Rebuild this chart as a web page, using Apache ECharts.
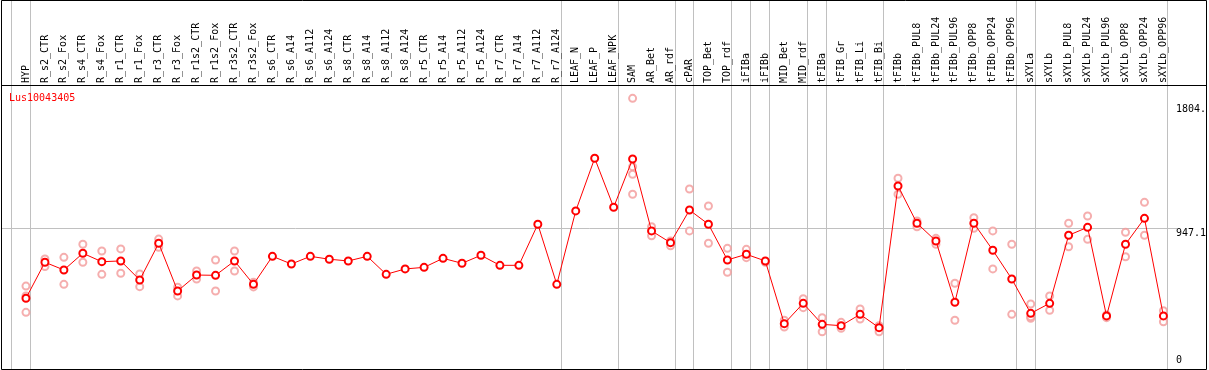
<!DOCTYPE html>
<html>
<head>
<meta charset="utf-8">
<script src="https://cdn.jsdelivr.net/npm/echarts@6/dist/echarts.min.js"></script>
<style>
  html, body { margin: 0; padding: 0; background: #fff; }
  #chart { width: 1209px; height: 370px; }
</style>
</head>
<body>
<div id="chart"></div>
<script>
const geneLabel = 'Lus10043405';

const categories = [
  'HYP', 'R_s2_CTR', 'R_s2_Fox', 'R_s4_CTR', 'R_s4_Fox', 'R_r1_CTR', 'R_r1_Fox', 'R_r3_CTR', 'R_r3_Fox',
  'R_r1s2_CTR', 'R_r1s2_Fox', 'R_r3s2_CTR', 'R_r3s2_Fox', 'R_s6_CTR', 'R_s6_A14', 'R_s6_A112', 'R_s6_A124',
  'R_s8_CTR', 'R_s8_A14', 'R_s8_A112', 'R_s8_A124', 'R_r5_CTR', 'R_r5_A14', 'R_r5_A112', 'R_r5_A124',
  'R_r7_CTR', 'R_r7_A14', 'R_r7_A112', 'R_r7_A124', 'LEAF_N', 'LEAF_P', 'LEAF_NPK', 'SAM', 'AR_Bet', 'AR_rdf',
  'cPAR', 'TOP_Bet', 'TOP_rdf', 'iFIBa', 'iFIBb', 'MID_Bet', 'MID_rdf', 'tFIBa', 'tFIB_Gr', 'tFIB_Li', 'tFIB_Bi',
  'tFIBb', 'tFIBb_PUL8', 'tFIBb_PUL24', 'tFIBb_PUL96', 'tFIBb_OPP8', 'tFIBb_OPP24', 'tFIBb_OPP96',
  'sXYLa', 'sXYLb', 'sXYLb_PUL8', 'sXYLb_PUL24', 'sXYLb_PUL96', 'sXYLb_OPP8', 'sXYLb_OPP24', 'sXYLb_OPP96'
];

const meanValues = [
  465, 713, 660, 775, 717, 722, 591, 844, 515,
  625, 623, 722, 561, 754, 701, 754, 734,
  722, 754, 630, 667, 678, 740, 706, 761,
  692, 692, 975, 561, 1067, 1430, 1092, 1425, 929, 848,
  1073, 975, 729, 768, 722, 290, 430, 285, 276, 354, 262,
  1239, 982, 860, 437, 982, 796, 598,
  361, 430, 899, 954, 343, 837, 1016, 343
];

const replicateValues = [
  [549, 481, 368], [736, 683], [747, 561], [837, 713], [791, 630], [805, 637], [632, 545], [873, 816], [541, 481],
  [653, 598], [729, 515], [791, 653], [575, 543], [], [], [], [],
  [], [], [], [], [], [], [], [],
  [], [], [], [], [], [], [], [1843, 1372, 1320, 1182], [958, 896], [827, 860],
  [1218, 929], [1101, 844], [809, 644], [802, 745], [713], [313, 267], [462, 400], [331, 234], [299, 258], [391, 322], [234, 276],
  [1292, 1182], [998, 958], [878, 837], [568, 313], [1020, 947], [929, 667], [837, 354],
  [425, 327, 338], [481, 382], [982, 820], [1032, 871], [350, 331], [920, 751], [1126, 899], [379, 303]
];

const yTickValues = [0, 947.1, 1804.2];
const yTickLabels = ['0', '947.1', '1804.'];

// group boundaries: a separator follows each of these category indices (-1 = before the first)
const separatorsAfter = [-1, 0, 28, 31, 34, 35, 37, 38, 39, 41, 42, 45, 52, 53, 60];

const FONT = 'DejaVu Sans Mono';

const scatterData = [];
replicateValues.forEach((reps, i) => reps.forEach(v => scatterData.push([categories[i], v])));

function labelFor(v) {
  const idx = yTickValues.indexOf(v);
  return idx >= 0 ? yTickLabels[idx] : '';
}

const chart = echarts.init(document.getElementById('chart'), null, { renderer: 'canvas' });

const yMin = -22.75, yMax = 1935;

chart.setOption({
  animation: false,
  backgroundColor: '#ffffff',
  grid: { left: 16.5, right: 33.5, top: 85, bottom: 1, containLabel: false },
  xAxis: {
    type: 'category',
    position: 'top',
    data: categories,
    boundaryGap: true,
    axisLine: { show: false },
    axisTick: { show: false },
    splitLine: { show: false },
    axisLabel: {
      interval: 0, rotate: 90, margin: 2,
      fontFamily: FONT, fontSize: 10, color: '#000'
    }
  },
  yAxis: [
    {
      type: 'value', position: 'right', min: yMin, max: yMax,
      axisLine: { show: false }, axisTick: { show: false }, splitLine: { show: false },
      axisLabel: {
        customValues: yTickValues.slice(1),
        formatter: labelFor, margin: 3, align: 'left', verticalAlign: 'top',
        fontFamily: FONT, fontSize: 10, color: '#000'
      }
    },
    {
      type: 'value', position: 'right', min: yMin, max: yMax,
      axisLine: { show: false }, axisTick: { show: false }, splitLine: { show: false },
      axisLabel: {
        customValues: yTickValues.slice(0, 1),
        formatter: labelFor, margin: 3, align: 'left', verticalAlign: 'bottom',
        fontFamily: FONT, fontSize: 10, color: '#000'
      }
    }
  ],
  series: [
    {
      type: 'scatter',
      data: scatterData,
      symbol: 'emptyCircle',
      symbolSize: 7,
      itemStyle: { color: '#f29a9a', borderColor: '#f29a9a', borderWidth: 1.1 },
      z: 3,
      silent: true
    },
    {
      type: 'line',
      data: meanValues,
      symbol: 'emptyCircle',
      symbolSize: 7,
      showAllSymbol: true,
      lineStyle: { color: '#ff0000', width: 1 },
      itemStyle: { color: '#ff0000', borderColor: '#ff0000', borderWidth: 1.6 },
      z: 4,
      silent: true
    }
  ]
});

// decorations positioned through the chart's own scales
const c0 = chart.convertToPixel({ xAxisIndex: 0 }, 0);
const cN = chart.convertToPixel({ xAxisIndex: 0 }, categories.length - 1);
const band = (cN - c0) / (categories.length - 1);
const crisp = x => Math.floor(x) + 0.5;

const elements = [];
separatorsAfter.forEach(i => {
  const x = crisp(c0 + (i + 0.237) * band);
  elements.push({
    type: 'line', z: 0, silent: true,
    shape: { x1: x, y1: 0, x2: x, y2: 369 },
    style: { stroke: '#c0c0c0', lineWidth: 1 }
  });
});
const yMid = crisp(chart.convertToPixel({ yAxisIndex: 0 }, yTickValues[1]));
elements.push({
  type: 'line', z: 0, silent: true,
  shape: { x1: 1.5, y1: yMid, x2: 1177, y2: yMid },
  style: { stroke: '#c0c0c0', lineWidth: 1 }
});
elements.push({
  type: 'rect', z: 10, silent: true,
  shape: { x: 1.5, y: 0.5, width: 1205, height: 369 },
  style: { fill: null, stroke: '#000', lineWidth: 1 }
});
elements.push({
  type: 'line', z: 10, silent: true,
  shape: { x1: 1.5, y1: 85.5, x2: 1206.5, y2: 85.5 },
  style: { stroke: '#000', lineWidth: 1 }
});
elements.push({
  type: 'text', z: 10, silent: true,
  x: 9, y: 93,
  style: { text: geneLabel, fill: '#ff0000', font: '10px "' + FONT + '"', verticalAlign: 'top', align: 'left' }
});

chart.setOption({ graphic: elements });
</script>
</body>
</html>
